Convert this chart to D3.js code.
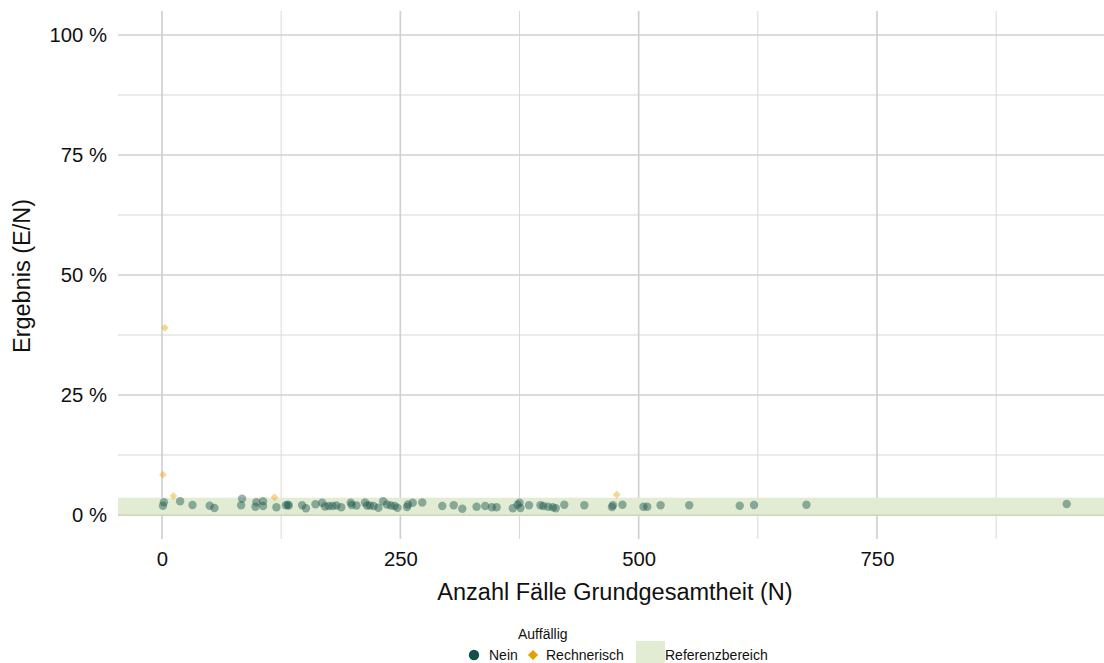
<!DOCTYPE html>
<html><head><meta charset="utf-8">
<script src="https://cdn.jsdelivr.net/npm/d3@7"></script>
<style>body{margin:0;background:#fff}svg{display:block;font-family:"Liberation Sans",Arial,Helvetica,sans-serif}</style>
</head><body>
<svg id="c" width="1104" height="663"></svg>
<script>
// Data: N (Anzahl Fälle) and Ergebnis (percent)
const neinN = [1,2,19,32,50,55,84,83,98,99,106,106,120,130,132,133,147,151,161,168,171,175,179,183,188,198,199,204,213,215,218,222,227,232,236,240,244,247,257,258,263,273,294,306,315,330,339,346,351,368,373,375,376,385,397,400,405,410,413,422,443,472,473,483,505,509,523,553,606,621,676,949];
const neinPct = [1.94,2.65,2.85,2.08,1.94,1.46,3.40,2.02,1.73,2.65,2.85,1.88,1.60,2.02,2.13,1.98,2.02,1.40,2.23,2.54,1.77,1.88,1.88,1.98,1.60,2.54,2.08,1.98,2.60,1.98,1.98,1.88,1.52,2.88,2.19,1.98,1.88,1.52,1.67,2.19,2.54,2.60,1.88,2.02,1.31,1.73,1.88,1.60,1.60,1.40,2.15,2.56,1.46,2.02,2.02,1.88,1.73,1.60,1.40,2.15,2.02,1.67,2.02,2.15,1.73,1.73,2.02,2.02,1.94,2.08,2.15,2.29];
const rechN = [3,1,12,118,477];
const rechPct = [39.0,8.4,3.96,3.69,4.23];
const refRange = [0, 3.6];
const xTicks = [0,250,500,750];
const xMinor = [125,375,625,875];
const yTicks = [0,25,50,75,100];
const yMinor = [12.5,37.5,62.5,87.5];
const legendTitle = "Auffällig";
const legendLabels = ["Nein","Rechnerisch","Referenzbereich"];

const svg = d3.select("#c");
const P = {l:118, r:1104, t:11, b:539};
const x = d3.scaleLinear().domain([0,750]).range([162,877]);
const y = d3.scaleLinear().domain([0,100]).range([515,35]);
const cNein = "#1a574d", cRech = "#E69F00", cBand = "#e2ecd3";

svg.append("defs").append("clipPath").attr("id","clip").append("rect")
  .attr("x",P.l).attr("y",P.t).attr("width",P.r-P.l).attr("height",P.b-P.t);

const grid = svg.append("g");
yMinor.forEach(v=>grid.append("line").attr("x1",P.l).attr("x2",P.r).attr("y1",y(v)).attr("y2",y(v)).attr("stroke","#d8d8d8").attr("stroke-width",1));
xMinor.forEach(v=>{ if(x(v)<P.r) grid.append("line").attr("x1",x(v)).attr("x2",x(v)).attr("y1",P.t).attr("y2",P.b).attr("stroke","#d8d8d8").attr("stroke-width",1);});
yTicks.forEach(v=>grid.append("line").attr("x1",P.l).attr("x2",P.r).attr("y1",y(v)).attr("y2",y(v)).attr("stroke","#d0d0d0").attr("stroke-width",1.7));
xTicks.forEach(v=>grid.append("line").attr("x1",x(v)).attr("x2",x(v)).attr("y1",P.t).attr("y2",P.b).attr("stroke","#d0d0d0").attr("stroke-width",1.7));

const panel = svg.append("g").attr("clip-path","url(#clip)");
panel.append("rect").attr("x",P.l).attr("width",P.r-P.l)
  .attr("y",y(refRange[1])).attr("height",y(refRange[0])-y(refRange[1])).attr("fill",cBand);
panel.append("line").attr("x1",P.l).attr("x2",P.r).attr("y1",y(refRange[0])).attr("y2",y(refRange[0]))
  .attr("stroke","#c3d0b4").attr("stroke-width",1.2);

panel.selectAll("circle.n").data(neinN.map((n,i)=>[n,neinPct[i]])).enter().append("circle")
  .attr("cx",d=>x(d[0])).attr("cy",d=>y(d[1])).attr("r",4.2).attr("fill",cNein).attr("fill-opacity",0.45);
const dia = d3.symbol().type(d3.symbolSquare).size(30);
panel.selectAll("path.r").data(rechN.map((n,i)=>[n,rechPct[i]])).enter().append("path")
  .attr("d",dia).attr("transform",d=>`translate(${x(d[0])},${y(d[1])}) rotate(45)`).attr("fill",cRech).attr("fill-opacity",0.42);

// axes labels
const tc = "#111";
const ff = "Liberation Sans, Arial, sans-serif";
const xa = svg.append("g").attr("transform",`translate(0,${P.b})`)
  .call(d3.axisBottom(x).tickValues(xTicks).tickSize(0).tickPadding(13).tickFormat(d3.format("d")));
xa.select(".domain").remove();
xa.selectAll("text").attr("font-size",20.3).attr("fill",tc).attr("font-family",ff);
const ya = svg.append("g").attr("transform",`translate(${P.l},0)`)
  .call(d3.axisLeft(y).tickValues(yTicks).tickSize(0).tickPadding(11).tickFormat(d=>d+" %"));
ya.select(".domain").remove();
ya.selectAll("text").attr("font-size",20.3).attr("fill",tc).attr("font-family",ff);

svg.append("text").attr("x",615).attr("y",600).attr("text-anchor","middle").attr("font-size",23.5).attr("fill",tc)
  .text("Anzahl Fälle Grundgesamtheit (N)");
svg.append("text").attr("transform","translate(30,276) rotate(-90)").attr("text-anchor","middle").attr("font-size",23.5).attr("fill",tc)
  .text("Ergebnis (E/N)");

// legend
const lg = svg.append("g");
lg.append("text").attr("x",518).attr("y",639).attr("font-size",14).attr("fill",tc).text(legendTitle);
lg.append("circle").attr("cx",474).attr("cy",655).attr("r",5.2).attr("fill","#154e48");
lg.append("text").attr("x",489).attr("y",660).attr("font-size",14).attr("fill",tc).text(legendLabels[0]);
lg.append("path").attr("d",d3.symbol().type(d3.symbolSquare).size(52)).attr("transform","translate(533,655) rotate(45)").attr("fill",cRech);
lg.append("text").attr("x",546).attr("y",660).attr("font-size",14).attr("fill",tc).text(legendLabels[1]);
lg.append("rect").attr("x",636).attr("y",641).attr("width",29).attr("height",22).attr("fill",cBand);
lg.append("text").attr("x",665).attr("y",660).attr("font-size",14).attr("fill",tc).text(legendLabels[2]);
</script>
</body></html>
